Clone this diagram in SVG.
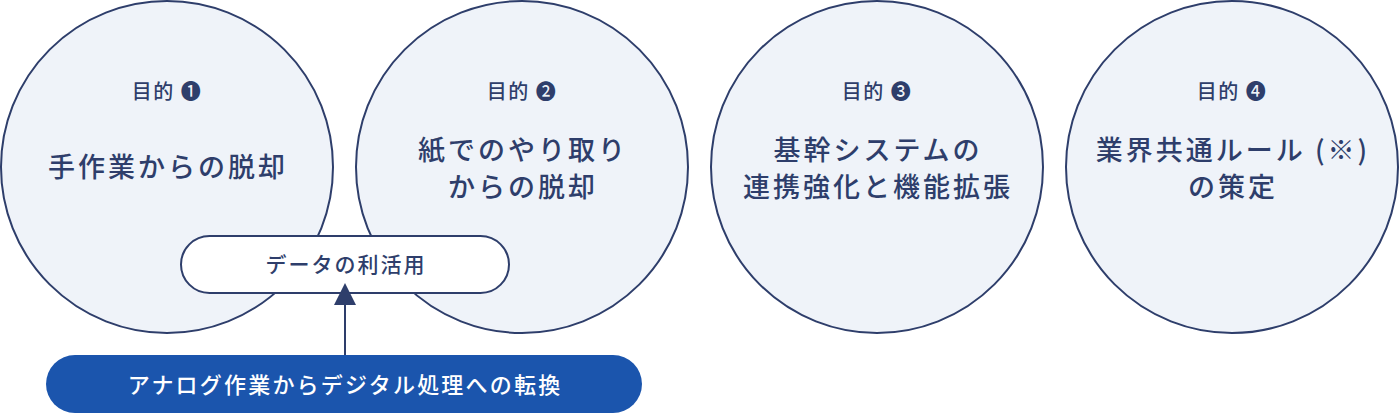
<svg xmlns="http://www.w3.org/2000/svg" width="1400" height="414" viewBox="0 0 1400 414">
<style>
.c{fill:#eff3f9;stroke:#2e3e6b;stroke-width:2}
text{font-family:"Noto Sans CJK JP","Noto Sans",sans-serif;fill:#2e3e6b;text-anchor:middle;font-weight:500}
.h{font-size:20px;letter-spacing:1.5px}
.m{font-size:27px;letter-spacing:3px}
.p{font-size:21px;letter-spacing:2px}
.w{fill:#fff;font-size:22px;letter-spacing:2.2px}
</style>
<g id="goal1">
<circle class="c" cx="167" cy="167" r="166"/>
<text class="h" x="167" y="99">目的 ❶</text>
<text class="m" x="168" y="177">手作業からの脱却</text>
</g>
<g id="goal2">
<circle class="c" cx="522" cy="167" r="166"/>
<text class="h" x="522" y="99">目的 ❷</text>
<text class="m" x="523" y="160">紙でのやり取り</text>
<text class="m" x="523" y="197">からの脱却</text>
</g>
<g id="goal3">
<circle class="c" cx="877" cy="167" r="166"/>
<text class="h" x="877" y="99">目的 ❸</text>
<text class="m" x="878" y="160">基幹システムの</text>
<text class="m" x="878" y="197">連携強化と機能拡張</text>
</g>
<g id="goal4">
<circle class="c" cx="1232" cy="167" r="166"/>
<text class="h" x="1232" y="99">目的 ❹</text>
<text class="m" x="1233" y="160">業界共通ルール (※)</text>
<text class="m" x="1233" y="197">の策定</text>
</g>
<g id="data-use">
<rect x="181" y="236" width="328" height="57" rx="28.5" fill="#fff" stroke="#2e3e6b" stroke-width="2"/>
<text class="p" x="346" y="272">データの利活用</text>
</g>
<g id="digital">
<rect x="46" y="355" width="596" height="58" rx="29" fill="#1b55ad"/>
<text class="w" x="345" y="393">アナログ作業からデジタル処理への転換</text>
</g>
<g id="connectors">
<line x1="345" y1="355" x2="345" y2="303" stroke="#2e3e6b" stroke-width="2"/>
<polygon points="345,283 356,305 334,305" fill="#2e3e6b"/>
</g>
</svg>
